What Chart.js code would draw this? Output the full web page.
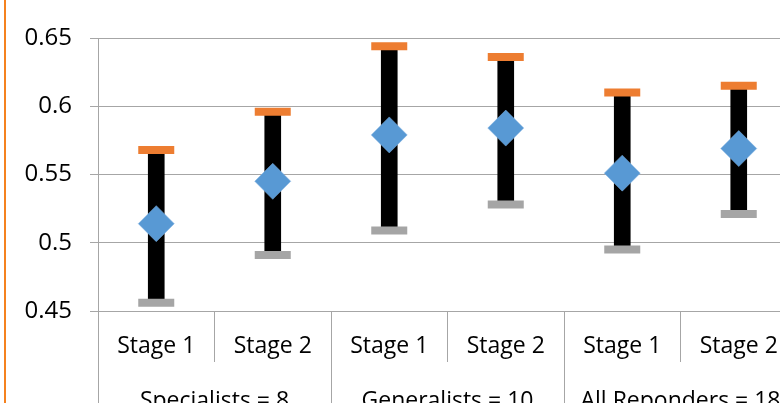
<!DOCTYPE html>
<html lang="en">
  <head>
    <meta charset="UTF-8" />
    <script src="https://cdn.jsdelivr.net/npm/chart.js@4.4.0/dist/chart.umd.min.js"></script>
    <title>Stage ranges</title>
    <style>
      html, body {
        margin: 0;
        padding: 0;
        background: #fff;
        overflow: hidden;
      }
      .edge {
        position: absolute;
        left: 4px;
        top: 0;
        width: 2px;
        height: 403px;
        background: #f5821f;
      }
      #chart {
        position: absolute;
        left: 0;
        top: 0;
      }
    </style>
  </head>
  <body>
    <div class="edge"></div>
    <canvas id="chart" width="800" height="430"></canvas>
    <script>
      const stages = ['Stage 1', 'Stage 2', 'Stage 1', 'Stage 2', 'Stage 1', 'Stage 2']
      const groups = ['Specialists = 8', 'Generalists = 10', 'All Reponders = 18']
      const highs = [0.568, 0.596, 0.644, 0.636, 0.610, 0.615]
      const lows = [0.456, 0.491, 0.509, 0.528, 0.495, 0.521]
      const means = [0.514, 0.545, 0.579, 0.584, 0.551, 0.569]
      const yTicks = [0.45, 0.5, 0.55, 0.6, 0.65]

      const font = "'Open Sans', sans-serif"
      const gridGray = '#a6a6a6'

      // the bottom axes should not reserve room for their end labels
      const noSidePad = (s) => {
        s.paddingLeft = 0
        s.paddingRight = 0
      }

      const ctx = document.getElementById('chart').getContext('2d')
      new Chart(ctx, {
        type: 'bar',
        data: {
          labels: stages,
          datasets: [
            {
              type: 'line',
              data: means,
              showLine: false,
              pointStyle: 'rectRot',
              pointRadius: 18,
              pointBackgroundColor: '#5899d4',
              pointBorderColor: '#7eb1e0',
              pointBorderWidth: 0.5,
              order: 0,
            },
            {
              type: 'line',
              data: highs,
              showLine: false,
              pointStyle: 'line',
              pointRadius: 18,
              pointBorderWidth: 8,
              pointBorderColor: '#ed7d31',
              order: 1,
            },
            {
              type: 'line',
              data: lows,
              showLine: false,
              pointStyle: 'line',
              pointRadius: 18,
              pointBorderWidth: 8,
              pointBorderColor: '#a5a5a5',
              order: 1,
            },
            {
              data: lows.map((lo, i) => [lo, highs[i]]),
              backgroundColor: '#000',
              barThickness: 16,
              order: 2,
            },
          ],
        },
        options: {
          responsive: false,
          animation: false,
          layout: {
            autoPadding: false,
            padding: { top: 38, left: 0, right: 3, bottom: 0 },
          },
          plugins: {
            legend: { display: false },
            tooltip: { enabled: false },
          },
          scales: {
            x: {
              offset: true,
              grid: {
                offset: true,
                drawOnChartArea: false,
                drawTicks: true,
                tickLength: 51,
                color: gridGray,
              },
              border: { display: false },
              ticks: {
                padding: -29,
                color: '#000',
                font: { family: font, size: 23 },
                maxRotation: 0,
                autoSkip: false,
              },
              afterFit: (s) => {
                s.height = 51
                noSidePad(s)
              },
            },
            x2: {
              type: 'category',
              labels: groups,
              position: 'bottom',
              offset: true,
              grid: {
                offset: true,
                drawOnChartArea: false,
                tickLength: 80,
                color: gridGray,
              },
              border: { display: false },
              ticks: {
                padding: -54,
                color: '#000',
                font: { family: font, size: 23 },
                maxRotation: 0,
                autoSkip: false,
              },
              afterFit: (s) => {
                s.height = 68
                noSidePad(s)
              },
            },
            y: {
              min: 0.45,
              max: 0.65,
              afterBuildTicks: (s) => { s.ticks = yTicks.map((v) => ({ value: v })) },
              grid: {
                color: gridGray,
                tickLength: 8,
              },
              border: { display: true, color: gridGray },
              ticks: {
                padding: 18,
                color: '#000',
                font: { family: font, size: 24 },
                callback: (v) => String(v),
              },
              afterFit: (s) => { s.width = 98 },
            },
          },
        },
      })
    </script>
  </body>
</html>
